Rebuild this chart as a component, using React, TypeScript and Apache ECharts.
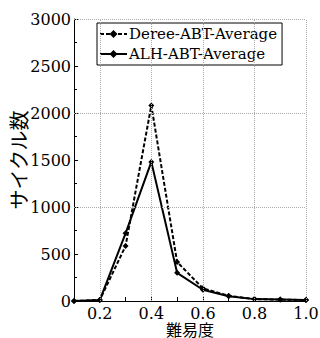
import React, { useEffect, useRef } from "react";
import * as echarts from "echarts";

const xValues = [0.1, 0.2, 0.3, 0.4, 0.5, 0.6, 0.7, 0.8, 0.9, 1.0];
const dereeValues = [0, 10, 585, 2080, 415, 135, 55, 20, 15, 10];
const alhValues = [0, 10, 720, 1480, 300, 120, 50, 20, 15, 10];
const seriesNames = ["Deree-ABT-Average", "ALH-ABT-Average"];
const xGridValues = [0.2, 0.4, 0.6, 0.8, 1.0];
const yGridValues = [1000, 2000, 3000];

export default function App() {
  const ref = useRef<HTMLDivElement>(null);
  useEffect(() => {
    document.body.style.margin = "0";
    const chart = echarts.init(ref.current!, null, { renderer: "svg" });
    const font = "DejaVu Serif";
    const cjk = "Noto Sans CJK JP";
    const gridStyle = { color: "#aaa", type: [1, 1] as any, width: 1 };
    chart.setOption({
      animation: false,
      backgroundColor: "#fff",
      grid: { left: 74, right: 14, top: 19, bottom: 37, outerBoundsMode: "none", containLabel: false },
      legend: {
        orient: "vertical",
        left: 97,
        top: 23,
        padding: [1, 5, 1, 2],
        itemWidth: 27,
        itemHeight: 10,
        itemGap: 0,
        borderColor: "#000",
        borderWidth: 1,
        backgroundColor: "#fff",
        textStyle: { fontFamily: font, fontSize: 15, lineHeight: 20, color: "#000", padding: [0, 0, 0, -3] },
        data: seriesNames,
      },
      xAxis: {
        type: "value",
        min: 0.1,
        max: 1.0,
        interval: 0.1,
        axisLine: { show: true, onZero: false, lineStyle: { color: "#000", width: 1 } },
        axisTick: { show: true, inside: true, length: 4, lineStyle: { color: "#000" } },
        axisLabel: {
          fontFamily: font,
          fontSize: 16,
          lineHeight: 14,
          color: "#000",
          margin: 5,
          formatter: (v: number) => {
            const r = Math.round(v * 10);
            return r % 2 === 0 ? (r / 10).toFixed(1) : "";
          },
        },
        splitLine: { show: false },
        name: "難易度",
        nameLocation: "middle",
        nameGap: 20,
        nameMoveOverlap: false,
        nameTextStyle: { fontFamily: cjk, fontSize: 16, lineHeight: 16, color: "#000", verticalAlign: "top" },
      },
      yAxis: {
        type: "value",
        min: 0,
        max: 3000,
        interval: 500,
        axisLine: { show: true, lineStyle: { color: "#000", width: 1 } },
        axisTick: { show: true, inside: true, length: 4, lineStyle: { color: "#000" } },
        minorTick: { show: true, splitNumber: 2, length: 3, lineStyle: { color: "#000" } },
        axisLabel: {
          fontFamily: font,
          fontSize: 16,
          color: "#000",
          margin: 3,
          formatter: (v: number) => String(v),
        },
        splitLine: { show: false },
        name: "サイクル数",
        nameLocation: "middle",
        nameGap: 46,
        nameRotate: 90,
        nameMoveOverlap: false,
        nameTextStyle: { fontFamily: cjk, fontSize: 20, color: "#000" },
      },
      series: [
        {
          name: seriesNames[0],
          type: "line",
          data: xValues.map((x, i) => [x, dereeValues[i]]),
          symbol: "diamond",
          symbolSize: 6,
          showAllSymbol: true,
          itemStyle: { color: "#000" },
          lineStyle: { color: "#000", width: 2, type: [4, 2] },
          markLine: {
            silent: true,
            symbol: "none",
            label: { show: false },
            lineStyle: gridStyle,
            emphasis: { disabled: true },
            data: [
              ...xGridValues.map((v) => ({ xAxis: v })),
              ...yGridValues.map((v) => ({ yAxis: v })),
            ],
          },
          z: 3,
        },
        {
          name: seriesNames[1],
          type: "line",
          data: xValues.map((x, i) => [x, alhValues[i]]),
          symbol: "diamond",
          symbolSize: 6,
          showAllSymbol: true,
          itemStyle: { color: "#000" },
          lineStyle: { color: "#000", width: 2 },
          z: 3,
        },
      ],
    });
    return () => chart.dispose();
  }, []);
  return <div ref={ref} style={{ width: 320, height: 338 }} />;
}
